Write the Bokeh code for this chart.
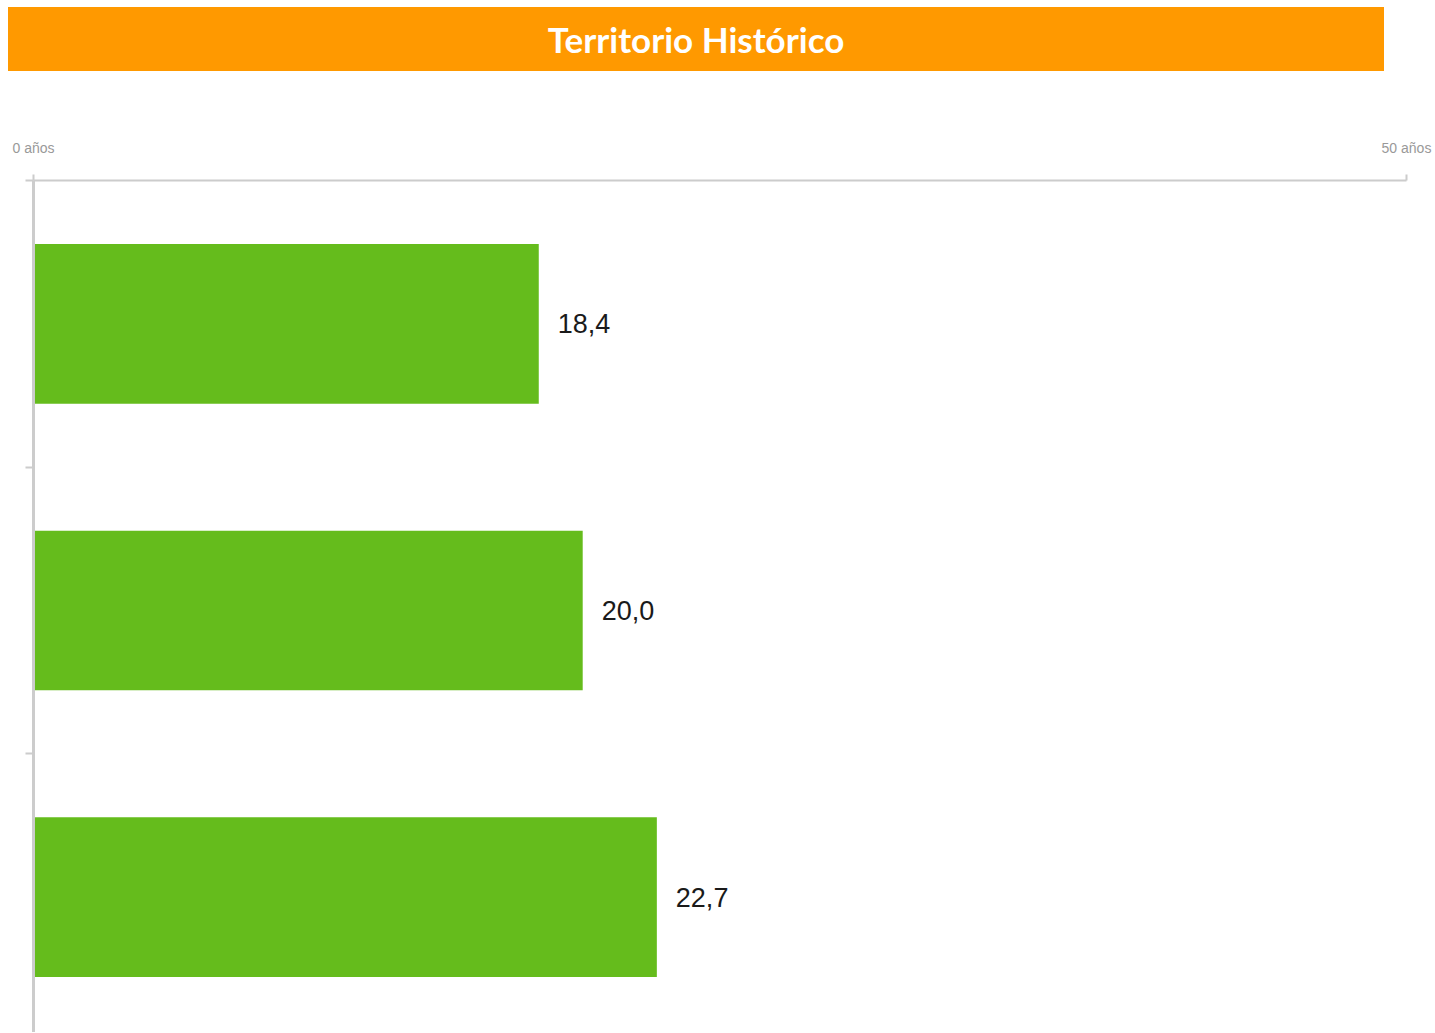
from bokeh.plotting import figure
from bokeh.layouts import column
from bokeh.models import Range1d, FixedTicker, ColumnDataSource, Div
from bokeh.core.properties import value
from bokeh.embed import file_html
from bokeh.resources import INLINE

title_text = "Territorio Histórico"
categories = ["2008", "2009", "2010"]
values = [18.4, 20.0, 22.7]
axis_ticks = [0, 50]
axis_tick_labels = ["0 años", "50 años"]

positions = [i + 0.5 for i in range(len(categories))]
labels = [f"{v:.1f}".replace(".", ",") for v in values]

# Title bar
t = Div(text=title_text, width=1376, height=64, margin=(7, 0, 1, 8),
        styles={"background-color": "#FF9900", "color": "white",
                "font-family": "Lato", "font-weight": "bold",
                "font-size": "35px", "text-align": "center",
                "line-height": "64px", "width": "1376px", "height": "64px"})

# Main chart
p = figure(width=1426, height=960,
           x_range=Range1d(0, 50), y_range=Range1d(2.972, 0),
           output_backend="svg", toolbar_location=None,
           x_axis_location="above",
           min_border_left=25, min_border_right=28, min_border_top=108,
           min_border_bottom=0)
p.margin = (0, 0, 0, 8)
p.outline_line_color = None
p.grid.visible = False
p.background_fill_color = "white"

src = ColumnDataSource(dict(y=positions, right=values, label=labels))
p.hbar(y="y", left=0, right="right", height=0.557, source=src,
       fill_color="#65BC1C", line_color=None)
p.text(x="right", y="y", text="label", source=src, x_offset=19,
       text_align="left", text_baseline="middle", text_color="#1a1a1a",
       text_font=value("Liberation Sans"), text_font_size="27px")

xa = p.xaxis[0]
xa.ticker = FixedTicker(ticks=axis_ticks)
xa.major_label_overrides = {k: v for k, v in zip(axis_ticks, axis_tick_labels)}
xa.major_tick_out = 6
xa.major_tick_in = 0
xa.minor_tick_out = 0
xa.minor_tick_in = 0
xa.axis_line_color = "#cccccc"
xa.axis_line_width = 2
xa.major_tick_line_color = "#cccccc"
xa.major_tick_line_width = 2
xa.major_label_text_color = "#999999"
xa.major_label_text_font = "Liberation Sans"
xa.major_label_text_font_size = "14px"
xa.major_label_standoff = 19

ya = p.yaxis[0]
ya.ticker = FixedTicker(ticks=[0, 1, 2, 3])
ya.major_label_overrides = {0: "", 1: "", 2: "", 3: ""}
ya.major_tick_out = 8
ya.major_tick_in = 0
ya.minor_tick_out = 0
ya.minor_tick_in = 0
ya.axis_line_color = "#cccccc"
ya.axis_line_width = 3
ya.major_tick_line_color = "#cccccc"
ya.major_tick_line_width = 2
ya.major_label_standoff = 0

layout = column(t, p, spacing=0)
open("out.html", "w").write(file_html(layout, INLINE))
